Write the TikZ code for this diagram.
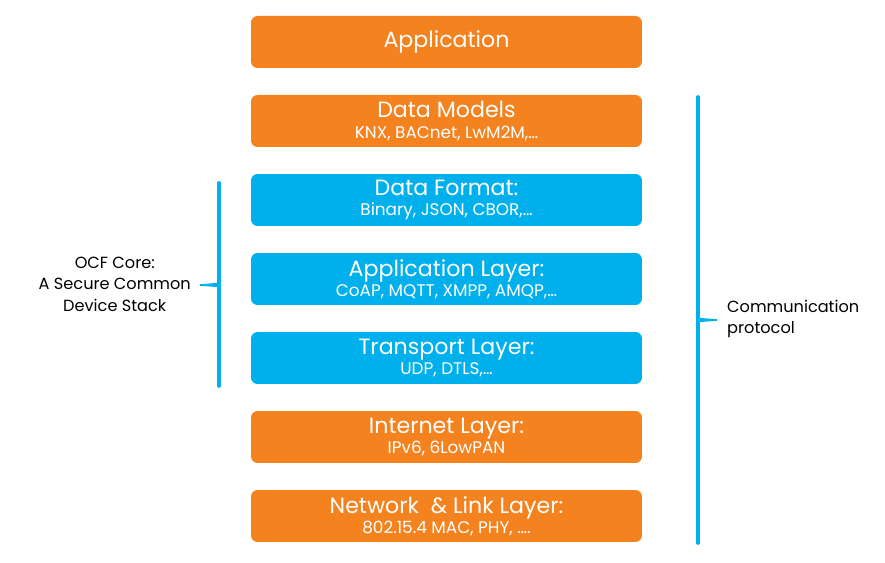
\documentclass[tikz,border=0pt]{standalone}
\usepackage{fontspec}
\setmainfont{Poppins}
\usepackage{tikz}
\usetikzlibrary{calc}
\definecolor{ocforange}{RGB}{244,130,31}
\definecolor{ocfblue}{RGB}{0,176,236}

\begin{document}
\begin{tikzpicture}[x=0.02cm,y=-0.02cm,
  layer/.style={rounded corners=0.13cm,minimum width=7.82cm,minimum height=1.04cm,
    text=white,align=center,font=\fontsize{12.6}{13}\selectfont,inner sep=0pt},
  brace/.style={ocfblue,line width=2.1pt},
  side/.style={font=\fontsize{9.2}{12.2}\selectfont,text=black}]
  \useasboundingbox (0,0) rectangle (885,563);
  % protocol stack
  \node[layer,fill=ocforange] (app) at (446.5,42) {Application};
  \node[layer,fill=ocforange] (dm) at (446.5,121)
    {Data Models\\[-1.5pt]{\fontsize{9.6}{11}\selectfont KNX, BACnet, LwM2M,\dots}};
  \node[layer,fill=ocfblue] (df) at (446.5,200)
    {Data Format:\\[-1.5pt]{\fontsize{9.6}{11}\selectfont Binary, JSON, CBOR,\dots}};
  \node[layer,fill=ocfblue] (al) at (446.5,279)
    {Application Layer:\\[-1.5pt]{\fontsize{9.6}{11}\selectfont CoAP, MQTT, XMPP, AMQP,\dots}};
  \node[layer,fill=ocfblue] (tl) at (446.5,358)
    {Transport Layer:\\[-1.5pt]{\fontsize{9.6}{11}\selectfont UDP, DTLS,\dots}};
  \node[layer,fill=ocforange] (il) at (446.5,437)
    {Internet Layer:\\[-1.5pt]{\fontsize{9.6}{11}\selectfont IPv6, 6LowPAN}};
  \node[layer,fill=ocforange] (nl) at (446.5,516)
    {Network \ \& Link Layer:\\[-1.5pt]{\fontsize{9.6}{11}\selectfont 802.15.4 MAC, PHY, \dots.}};
  % left bracket: OCF core
  \coordinate (c1) at (219,183);\coordinate (c2) at (219,386);
  \coordinate (ct) at (219,285);
  \draw[brace,line cap=round] (c1)--(c2);
  \node[side,align=center,anchor=east] (core) at (197,284)
    {OCF Core:\\A Secure Common\\Device Stack};
  \fill[ocfblue] (200,284.2)--(219,282.8)--(219,287.2)--(200,285.8)--cycle;
  % right bracket: communication protocol
  \coordinate (p1) at (698,97);\coordinate (p2) at (698,543);
  \coordinate (pt) at (698,320);
  \draw[brace,line cap=round] (p1)--(p2);
  \fill[ocfblue] (698,317.8)--(717,319.2)--(717,320.8)--(698,322.2)--cycle;
  \node[side,align=left,anchor=west] (comm) at (721,319)
    {Communication\\protocol};
\end{tikzpicture}
\end{document}
